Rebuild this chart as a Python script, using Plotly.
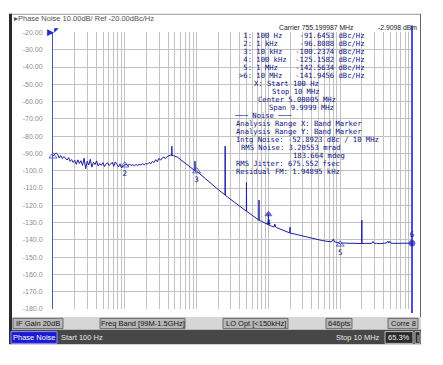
import plotly.graph_objects as go

# ---------------- data ----------------
freq_hz = [
    100, 105, 110, 116, 122, 128, 135, 142, 149, 157, 165, 173, 182, 191, 201, 211,
    222, 233, 245, 258, 271, 285, 300, 315, 331, 348, 366, 385, 405, 426, 448, 471,
    495, 520, 547, 575, 604, 635, 668, 702, 738, 776, 816, 858, 902, 948, 1000,
    1050, 1100, 1160, 1220, 1290, 1360, 1430, 1510, 1590, 1680, 1770, 1860, 1960,
    2070, 2180, 2300, 2420, 2550, 2690, 2830, 2980, 3150, 3320, 3500, 3690, 3890,
    4100, 4320, 4500, 4520, 4540, 4800, 5100, 5400, 5700, 6000, 6400, 6800, 7300,
    7800, 8300, 8800, 9300, 9480, 9500, 9520, 10000, 10500, 11000, 12000, 13000,
    14000, 15000, 16500, 18000, 20000, 22000, 24000, 24900, 25000, 25100, 27000,
    30000, 33000, 36000, 40000, 44000, 48000, 49300, 49500, 49700, 52000, 56000,
    60000, 65000, 70000, 73700, 74000, 74300, 78000, 84000, 90000, 95000, 99600,
    100000, 100400, 110000, 120000, 123000, 126000, 130000, 145000, 160000, 180000,
    199000, 200000, 201000, 220000, 250000, 290000, 340000, 400000, 470000, 550000,
    650000, 760000, 800000, 840000, 900000, 950000, 1000000, 1050000, 1200000,
    1400000, 1700000, 1990000, 2000000, 2010000, 2300000, 2600000, 2750000,
    2860000, 2970000, 3200000, 3600000, 4100000, 4400000, 4600000, 4750000,
    4900000, 5100000, 5600000, 6500000, 7500000, 8500000, 9300000, 10000000,
]
noise_dbc = [
    -91.6, -90.8, -89.7, -90.5, -92.6, -91.2, -93.0, -91.8, -92.9, -93.8, -92.4, -94.6,
    -93.5, -95.2, -94.0, -96.3, -93.7, -95.8, -94.2, -96.9, -92.8, -98.8, -94.5, -96.7,
    -93.4, -97.9, -95.1, -96.4, -94.3, -97.2, -95.8, -96.9, -95.3, -97.6, -96.1, -95.4,
    -97.0, -96.2, -95.1, -97.4, -94.9, -96.3, -97.8, -96.0, -98.3, -97.1, -96.8,
    -96.2, -97.3, -96.0, -97.0, -96.5, -97.1, -96.4, -96.9, -96.3, -96.7, -95.9, -96.6,
    -95.8, -96.2, -95.2, -96.0, -94.6, -95.3, -93.6, -94.8, -92.8, -93.9, -92.6, -92.2,
    -92.9, -91.8, -91.3, -91.0, -91.2, -85.8, -91.1, -91.3, -91.6, -92.1, -92.9, -93.6,
    -94.5, -95.4, -96.4, -97.3, -98.2, -99.0, -99.8, -100.0, -94.5, -100.3, -100.2,
    -101.0, -101.8, -103.2, -104.5, -105.6, -106.6, -108.0, -109.3, -110.9, -112.3,
    -113.5, -114.0, -85.8, -114.2, -115.2, -116.6, -118.0, -119.3, -120.6, -121.8,
    -123.0, -123.4, -106.8, -123.5, -124.0, -125.0, -125.9, -127.0, -127.9, -128.6,
    -117.0, -128.7, -129.0, -129.8, -130.4, -130.9, -131.2, -125.2, -131.3, -132.0,
    -132.5, -130.8, -132.6, -132.9, -133.7, -134.5, -135.3, -136.0, -132.7, -136.1,
    -136.4, -137.0, -137.7, -138.4, -139.1, -139.7, -140.3, -140.8, -141.1, -139.6,
    -141.2, -141.4, -141.6, -142.6, -141.8, -141.9, -142.0, -142.1, -142.1, -128.5,
    -142.1, -142.0, -142.1, -142.0, -140.9, -142.0, -142.0, -142.2, -141.9, -141.9,
    -140.7, -141.8, -140.9, -141.9, -142.0, -142.1, -141.9, -142.0, -141.9, -141.9,
]

marker_ids = ["1", "2", "3", "4", "5", "6"]
marker_freq = [100, 1000, 10000, 100000, 1000000, 10000000]
marker_freq_txt = ["100 Hz", "1 kHz", "10 kHz", "100 kHz", "1 MHz", "10 MHz"]
marker_val = [-91.6453, -96.8088, -100.2374, -125.1582, -142.5634, -141.9456]

decade_freq = [100, 1000, 10000, 100000, 1000000, 10000000]
y_ticks = [-20, -30, -40, -50, -60, -70, -80, -90, -100, -110, -120, -130,
           -140, -150, -160, -170, -180]
y_ticklabels = ["-20.00", "-30.00", "-40.00", "-50.00", "-60.00", "-70.00",
                "-80.00", "-90.00", "-100.0", "-110.0", "-120.0", "-130.0",
                "-140.0", "-150.0", "-160.0", "-170.0", "-180.0"]
grid_freq = [m * 10 ** e for e in range(2, 7) for m in range(1, 10)] + [10000000]

info_rows = [
    ("X: Start 100 Hz", 252),
    ("Stop 10 MHz", 270),
    ("Center 5.00005 MHz", 256),
    ("Span 9.9999 MHz", 267),
    ("\u2500\u2500\u2500 Noise \u2500\u2500\u2500", 232),
    ("Analysis Range X: Band Marker", 234),
    ("Analysis Range Y: Band Marker", 234),
    ("Intg Noise: -52.8923 dBc / 10 MHz", 234),
    ("RMS Noise: 3.20553 mrad", 239),
    ("183.664 mdeg", 291),
    ("RMS Jitter: 675.552 fsec", 234),
    ("Residual FM: 1.94895 kHz", 234),
]
status_items = [("IF Gain 20dB", 13, 63), ("Freq Band [99M-1.5GHz]", 100, 185),
                ("LO Opt [<150kHz]", 223, 288), ("646pts", 326, 352),
                ("Corre 8", 388, 418)]

# ---------------- helpers ----------------
W, H = 443, 365
def px(x): return x / W
def py(y): return 1 - y / H
def nb(s): return s.replace(" ", "\u00a0")

NAVY = "#10107e"
TRACE = "#1c1ca4"
MONO = "DejaVu Sans Mono"
SANS = "Liberation Sans"

fig = go.Figure()

fig.add_trace(go.Scatter(x=freq_hz, y=noise_dbc, mode="lines",
                         line=dict(color=TRACE, width=1), hoverinfo="skip"))

# markers on trace
sym = ["triangle-up-open", "triangle-up-open", "triangle-up-open", "triangle-up",
       "triangle-up-open", "circle"]
tpos = ["bottom center", "bottom center", "bottom center", "bottom center",
        "bottom center", "top center"]
msize = [7, 7, 7, 6, 7, 6]
mtext = ["", "2", "3", "4", "5", "6"]
fig.add_trace(go.Scatter(x=marker_freq, y=marker_val, mode="markers+text",
                         text=mtext, textposition=tpos,
                         textfont=dict(family=MONO, size=7.5, color=NAVY),
                         marker=dict(symbol=sym, size=msize, color="#2a2ab8",
                                     line=dict(width=1, color="#2a2ab8")),
                         cliponaxis=False, hoverinfo="skip"))

# band markers at the bottom
fig.add_trace(go.Scatter(x=decade_freq[:-1], y=[-182.5] * 5, mode="markers",
                         marker=dict(symbol="triangle-up-open", size=8, color="#5a66b8",
                                     line=dict(width=1, color="#5a66b8")),
                         cliponaxis=False, hoverinfo="skip"))
fig.add_trace(go.Scatter(x=decade_freq[-1:], y=[-182.5], mode="markers",
                         marker=dict(symbol="triangle-up", size=10, color="#1414d0"),
                         cliponaxis=False, hoverinfo="skip"))

shapes = []
def rect(x0, y0, x1, y1, fill, line=None, lw=1):
    shapes.append(dict(type="rect", xref="paper", yref="paper",
                       x0=px(x0), x1=px(x1), y0=py(y1), y1=py(y0),
                       fillcolor=fill, line=dict(color=line or fill, width=lw if line else 0),
                       layer="above"))
def line(x0, y0, x1, y1, color, w=1):
    shapes.append(dict(type="line", xref="paper", yref="paper",
                       x0=px(x0), x1=px(x1), y0=py(y0), y1=py(y1),
                       line=dict(color=color, width=w), layer="above"))

# active marker line at 10 MHz
line(412, 22, 412, 315, "#1414d0", 1.5)
# panel frame
line(10, 10.5, 421, 10.5, "#9a9a9a")
line(420.5, 10, 420.5, 320, "#6a6a6a")
rect(9, 10, 12, 347, "#2a2a2a")
# status bar
rect(12, 319, 421, 332, "#d6d6d6")
for _, a, b in status_items:
    rect(a, 320.5, b, 331, "#b8b8b8", "#6a6a6a")
rect(12, 332, 421, 347, "#474747")
rect(11, 334, 57, 346, "#1a1ad0", "#8c8cff")
rect(385, 334, 413, 346, "#2a2a2a", "#bdbdbd")
rect(415, 334, 420, 346, "#2a2a2a", "#bdbdbd")

ann = []
def text(x, y, s, size=7.2, color=NAVY, family=MONO, anchor="left"):
    ann.append(dict(x=px(x), y=py(y), xref="paper", yref="paper", text=nb(s),
                    showarrow=False, xanchor=anchor, yanchor="middle",
                    font=dict(family=family, size=size, color=color)))

text(12, 15, "\u25b8Phase Noise 10.00dB/ Ref -20.00dBc/Hz", 7.5, "#505050", SANS)
text(277, 24, "Carrier 755.199987 MHz", 6.8, "#202020", SANS)
text(419, 24, "-2.9098 dBm", 6.8, "#202020", SANS, "right")

row_y = 32.2
for mid, ft, v in zip(marker_ids, marker_freq_txt, marker_val):
    prefix = ">" if mid == "6" else " "
    s = f"{prefix}{mid}: {ft:<8}{v:>10.4f} dBc/Hz"
    text(237, row_y, s)
    row_y += 8.15
for s, x in info_rows:
    text(x, row_y, s)
    row_y += 8.15

# reference level marker
text(50, 29, "\u25b6", 9, "#2828c8", SANS, "center")
text(56, 27, "\u25e4", 6, "#2828c8", SANS, "center")

for s, a, b in status_items:
    text((a + b) / 2, 326, s, 7.5, "#141414", SANS, "center")
text(34, 340, "Phase Noise", 7.5, "#ffffff", SANS, "center")
text(59, 340, "Start 100 Hz", 7.5, "#e6e6e6", SANS)
text(382, 340, "Stop 10 MHz", 7.5, "#e6e6e6", SANS, "right")
text(399, 340, "65.3%", 7.5, "#f0f0f0", SANS, "center")
text(417.5, 340, "|", 7.5, "#f0f0f0", SANS, "center")

fig.update_layout(
    width=W, height=H, margin=dict(l=0, r=0, t=0, b=0),
    paper_bgcolor="white", plot_bgcolor="white", showlegend=False,
    shapes=shapes, annotations=ann,
    xaxis=dict(type="log", range=[2, 7], domain=[px(53), px(412)],
               tickvals=grid_freq, showticklabels=False, ticks="",
               showgrid=True, gridcolor="#c2c2c2", gridwidth=1,
               zeroline=False, showline=False),
    yaxis=dict(range=[-180, -20], domain=[py(311), py(29)],
               tickvals=y_ticks, ticktext=y_ticklabels, ticks="",
               tickfont=dict(family=SANS, size=7, color="#8c8c8c"),
               ticklabelstandoff=8,
               showgrid=True, gridcolor="#c2c2c2", gridwidth=1,
               zeroline=False, showline=True, linecolor="#4a58a8", linewidth=1),
)

fig.write_html("out.html", config={"displayModeBar": False})
